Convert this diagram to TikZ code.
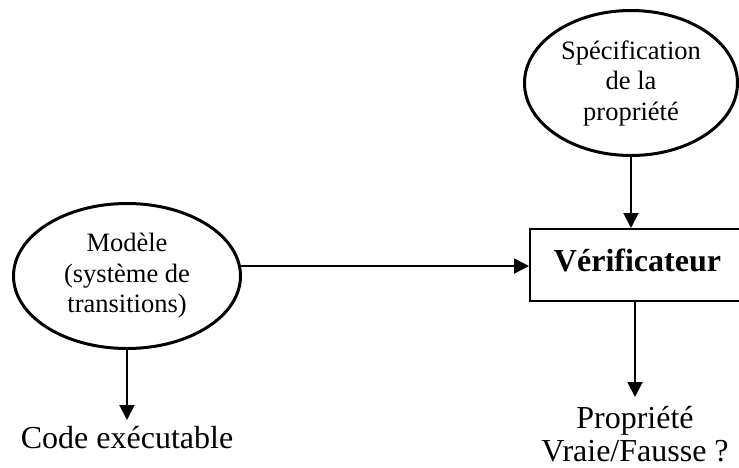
\documentclass[tikz,border=0pt]{standalone}
\usepackage{fontspec}
\setmainfont{Liberation Serif}
\usetikzlibrary{arrows.meta, positioning, shapes.geometric}

\begin{document}
\begin{tikzpicture}[x=0.5pt, y=-0.5pt]
    % Define styles
    \tikzstyle{bubble} = [ellipse, draw, line width=1.5pt, align=center,
                          inner sep=0pt, font=\fontsize{13.25}{15.25}\selectfont]
    \tikzstyle{block} = [rectangle, draw, line width=1pt,
                          minimum width=107.5pt, minimum height=36pt, text depth=5pt,
                          font=\fontsize{16}{19}\selectfont\bfseries]
    \tikzstyle{result} = [align=center, inner sep=3pt,
                          font=\fontsize{16}{16.5}\selectfont]
    \tikzstyle{arrow} = [line width=1pt, -{Triangle[width=7.5pt,length=7.5pt]}]

    \clip (0,0) rectangle (739,467);

    % Create blocks
    \node[bubble, minimum width=106.5pt, minimum height=72.5pt] (spec) at (631,83) {Spécification\\de la\\propriété};
    \node[block] (verif) at (637.5,265) {Vérificateur};
    \node[bubble, minimum width=113.5pt, minimum height=72.5pt] (model) at (127,276) {Modèle\\(système de\\transitions)};

    \node[result, outer sep=1.5pt, anchor=north] (prop) at (635,397) {Propriété\\Vraie/Fausse ?};
    \node[result, below=35pt of model] (code) {Code exécutable};

    % Draw arrows
    \draw[arrow] (spec) -- (spec |- verif.north);
    \draw[arrow] (model.5) -- (model.5 -| verif.west);
    \draw[arrow] (verif.south -| prop) -- (prop.north);
    \draw[arrow] (model) -- (code);
\end{tikzpicture}
\end{document}
